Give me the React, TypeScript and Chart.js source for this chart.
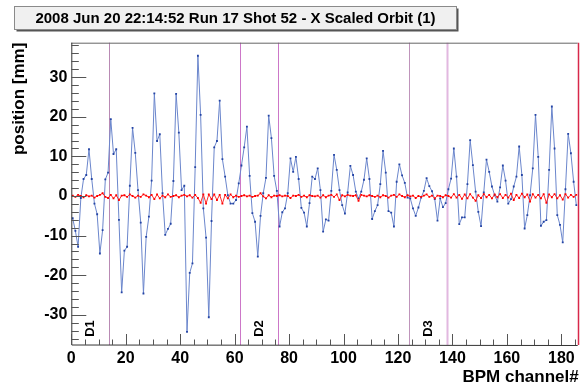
import React, { useEffect, useRef } from 'react';
import { Chart, registerables } from 'chart.js';

Chart.register(...registerables);

const titleText = '2008 Jun 20 22:14:52 Run 17 Shot 52 - X Scaled Orbit (1)';
const xTitle = 'BPM channel#';
const yTitle = 'position [mm]';

// BPM channel index (bins 0..185, drawn at bin centre)
const channels: number[] = Array.from({ length: 186 }, (_, i) => i);

const orbitX: number[] = [
  -5.6, -8.8, -12.8, -0.5, 4.3, 5.3, 11.8, 4.3, -1.9, -4.6,
  -14.5, -8.6, 4.2, 5.9, 19.4, 10.6, 11.8, -6.0, -24.3, -13.8,
  -12.8, 2.6, 17.2, 10.9, 1.5, -6.7, -24.6, -10.3, -5.2, 3.9,
  25.9, 13.9, 15.6, 0.7, -9.8, -8.3, -7.0, 3.8, 25.8, 16.0,
  1.5, 2.6, -34.3, -19.4, -17.0, 7.3, 35.4, 20.5, -3.1, -10.5,
  -30.6, -6.3, 12.3, 13.9, 24.1, 9.3, 4.9, 0.2, -1.9, -1.9,
  -1.0, 3.2, 7.7, 12.3, 17.5, 5.1, -4.3, -6.5, -15.3, -5.0,
  0.7, 4.6, 20.3, 14.6, 5.1, 1.3, -7.7, -4.1, -3.1, 0.7,
  9.5, 6.1, 9.9, 4.3, -3.0, -4.2, -7.7, -1.8, 4.9, 4.3,
  7.0, 1.5, -9.0, -5.9, -6.2, 1.3, 10.4, 6.6, 1.5, -2.3,
  -4.4, 0.9, 7.6, 5.3, 1.1, -0.6, 1.1, 4.1, 9.5, 4.3,
  -5.8, -3.8, -2.3, 3.0, 11.4, 5.9, -3.8, -4.2, -7.7, 3.6,
  8.0, 5.2, 3.3, -0.4, -0.6, -3.1, -5.0, -2.9, -0.4, 1.3,
  4.5, 2.5, 1.2, -0.8, -6.2, -0.6, -2.8, -1.8, 1.7, 4.4,
  12.0, 4.9, -7.1, -5.4, -5.4, 3.0, 14.1, 7.8, 1.1, -4.0,
  -7.6, 0.9, 9.2, 6.1, 2.4, 0.2, -1.4, 2.2, 7.7, 3.9,
  -1.9, -0.8, 2.4, 4.9, 12.5, 5.3, -8.2, -4.8, 0.2, 7.0,
  20.5, 9.9, -7.5, -6.5, -6.1, 6.6, 22.6, 12.0, -4.8, -7.3,
  -11.7, 1.7, 15.7, 10.8, 3.6, -2.3,
];

const orbitRef: number[] = [
  0.1, -0.2, 0.3, 0.0, -0.3, 0.2, -0.1, 0.1, -0.4, 0.0, 0.3, 0.7, -0.2, -0.5,
  0.3, -0.6, 0.2, -1.0, 0.1, 0.2, -0.2, 0.4, 0.0, -0.4, 0.1, -0.2, 0.4, 0.1,
  -0.3, 0.3, -0.8, 0.4, -0.6, 0.1, -0.3, 0.4, -0.2, 0.0, 0.2, -0.3, 0.1, 0.3, -0.1, 0.2, -0.4, 0.3,
  -0.5, -1.7, 0.4, -1.9, 0.4, -0.8, 0.4, -1.0, 0.3, -1.9, 0.3, -0.6,
  0.4, -0.3, 0.1, -0.2, 0.0, 0.2, -0.1, 0.1, -0.2, 0.0, 0.1, 0.7, -0.1, -0.6, 0.2, -0.3, 0.1, 0.0,
  0.2, -0.1, 0.1, 0.0, -0.5, 0.1, 0.0, 0.3, -0.2, 0.1, -0.3, 0.2, 0.0, -0.1, 0.1, -0.4, 0.2, -0.3, 0.1, 0.3, -0.2, 0.4, -1.0, 0.2, -0.1,
  0.3, 0.1, 0.0, 0.2, -1.2, 0.3, 0.1, -0.1, 0.2, 0.0, -0.2, 0.1, -0.3, 0.2, 0.0, -0.4, 0.1, 0.3, -0.2, 0.4, 0.0, -0.3, 0.2, -0.1, 0.1,
  -0.5, 0.0, -0.2, 0.1, 0.4, -0.2, 0.1, -0.6, 0.1, 0.0, -0.3, 0.2, 0.0, -0.4, 0.5, -0.4, 0.3, -0.7, 0.4, -0.6, 0.5, -0.4, -1.2, 0.2, -0.5,
  0.5, -0.3, 0.3, -0.6, 0.4, -0.3, 0.5, -0.5, 0.3, -0.4, 0.6, -1.0, 0.3, -0.5, 0.6, -0.3, 0.4, -1.4, 0.5, -0.4,
  0.3, -0.6, 0.5, -1.7, 0.4, -0.3, 0.5, -0.6, 0.2, -0.9, 0.5, -0.4, 0.3, -0.2, 0.3,
];

const xMin = 0;
const xMax = 186;
const yMin = -37.6;
const yMax = 38.7;
const xTickLabels: number[] = [0, 20, 40, 60, 80, 100, 120, 140, 160, 180];
const yTickLabels: number[] = [-30, -20, -10, 0, 10, 20, 30];
const xMajorStep = 20;
const xMinorStep = 5;
const yMajorStep = 10;
const yMinorStep = 2;

const markerPositions: number[] = [14, 62, 76, 124, 138, 186];
const markerColors: string[] = ['#b98ab4', '#cc77c8', '#cc77c8', '#bf94bb', '#e2b8e0', '#d8284a'];
const markerWidths: number[] = [1, 1, 1, 1, 2, 1.5];

const sectorLabels: string[] = ['D1', 'D2', 'D3'];
const sectorPositions: number[] = [7, 69, 131];

const FONT = '"Liberation Sans", Arial, Helvetica, sans-serif';

const rootStyle = {
  id: 'rootStyle',
  beforeDatasetsDraw(chart: any) {
    const { ctx, chartArea: a, scales } = chart;
    const x = scales.x;
    ctx.save();
    markerPositions.forEach((v, k) => {
      const px = Math.round(x.getPixelForValue(v)) + 0.5;
      ctx.strokeStyle = markerColors[k];
      ctx.lineWidth = markerWidths[k];
      ctx.beginPath();
      ctx.moveTo(px, a.top);
      ctx.lineTo(px, a.bottom);
      ctx.stroke();
    });
    ctx.restore();
  },
  afterDraw(chart: any) {
    const { ctx, chartArea: a, scales } = chart;
    const x = scales.x;
    const y = scales.y;
    ctx.save();
    // frame
    ctx.lineWidth = 1;
    ctx.strokeStyle = '#666666';
    ctx.beginPath();
    ctx.moveTo(a.left, a.top + 0.5);
    ctx.lineTo(a.right, a.top + 0.5);
    ctx.stroke();
    ctx.strokeStyle = '#333333';
    ctx.beginPath();
    ctx.moveTo(a.left + 0.5, a.top);
    ctx.lineTo(a.left + 0.5, a.bottom);
    ctx.lineTo(a.right, a.bottom + 0.5);
    ctx.stroke();

    // y ticks (inside)
    ctx.strokeStyle = '#555555';
    for (let v = Math.ceil(yMin / yMinorStep) * yMinorStep; v <= yMax; v += yMinorStep) {
      const py = Math.round(y.getPixelForValue(v)) + 0.5;
      const major = Math.abs(v % yMajorStep) < 1e-6;
      ctx.beginPath();
      ctx.moveTo(a.left, py);
      ctx.lineTo(a.left + (major ? 15 : 7.5), py);
      ctx.stroke();
    }
    // x ticks (inside)
    for (let v = xMin; v <= xMax; v += xMinorStep) {
      const px = Math.round(x.getPixelForValue(v)) + 0.5;
      const major = v % xMajorStep === 0;
      ctx.beginPath();
      ctx.moveTo(px, a.bottom);
      ctx.lineTo(px, a.bottom - (major ? 11 : 5.5));
      ctx.stroke();
    }

    // sector labels
    ctx.fillStyle = '#000000';
    ctx.font = `bold 13px ${FONT}`;
    ctx.textAlign = 'center';
    ctx.textBaseline = 'middle';
    sectorLabels.forEach((t, k) => {
      ctx.save();
      ctx.translate(x.getPixelForValue(sectorPositions[k]), 328.5);
      ctx.rotate(-Math.PI / 2);
      ctx.fillText(t, 0, 0);
      ctx.restore();
    });

    // axis titles
    ctx.font = `bold 17px ${FONT}`;
    ctx.textAlign = 'right';
    ctx.textBaseline = 'alphabetic';
    ctx.fillText(xTitle, a.right + 1, 382);
    ctx.save();
    ctx.translate(24, a.top);
    ctx.rotate(-Math.PI / 2);
    ctx.textAlign = 'right';
    ctx.fillText(yTitle, 0, 0);
    ctx.restore();

    // title box
    const bx = 14.5, by = 6.5, bw = 442, bh = 23;
    ctx.fillStyle = '#555555';
    ctx.fillRect(bx + 2, by + 2, bw, bh);
    ctx.fillStyle = '#f0f0f0';
    ctx.fillRect(bx, by, bw, bh);
    ctx.strokeStyle = '#8a8a8a';
    ctx.lineWidth = 1;
    ctx.strokeRect(bx, by, bw, bh);
    ctx.fillStyle = '#000000';
    ctx.font = `bold 15px ${FONT}`;
    ctx.textAlign = 'center';
    ctx.textBaseline = 'middle';
    ctx.fillText(titleText, bx + bw / 2, by + bh / 2 + 1);
    ctx.restore();
  },
};

export default function App() {
  const ref = useRef<HTMLCanvasElement>(null);
  useEffect(() => {
    document.body.style.margin = '0';
    const canvas = ref.current!;
    const chart = new Chart(canvas, {
      type: 'line',
      data: {
        datasets: [
          {
            label: 'ref',
            data: channels.map((c, i) => ({ x: c + 0.5, y: orbitRef[i] })),
            borderColor: '#ff2a2a',
            backgroundColor: '#ff0000',
            borderWidth: 1,
            pointRadius: 1.3,
            pointStyle: 'rect',
            pointBorderWidth: 0,
            tension: 0,
          },
          {
            label: 'x',
            data: channels.map((c, i) => ({ x: c + 0.5, y: orbitX[i] })),
            borderColor: '#6b86cc',
            backgroundColor: '#2444a4',
            borderWidth: 1,
            pointRadius: 1.3,
            pointStyle: 'rect',
            pointBorderWidth: 0,
            tension: 0,
          },
        ],
      },
      options: {
        animation: false,
        responsive: false,
        devicePixelRatio: 1,
        layout: { padding: { top: 42.7, right: 7.3, left: 0, bottom: 0 } },
        plugins: { legend: { display: false }, tooltip: { enabled: false }, title: { display: false } },
        scales: {
          x: {
            type: 'linear',
            min: xMin,
            max: xMax,
            grid: { display: false, drawTicks: false },
            border: { display: false },
            afterBuildTicks: (s: any) => {
              s.ticks = xTickLabels.map((v) => ({ value: v }));
            },
            afterFit: (s: any) => { s.height = 41; },
            ticks: {
              padding: 4,
              color: '#000',
              maxRotation: 0,
              autoSkip: false,
              font: { family: FONT, size: 16, weight: 'bold' },
            },
          },
          y: {
            type: 'linear',
            min: yMin,
            max: yMax,
            grid: { display: false, drawTicks: false },
            border: { display: false },
            afterBuildTicks: (s: any) => {
              s.ticks = yTickLabels.map((v) => ({ value: v }));
            },
            afterFit: (s: any) => { s.width = 71.3; },
            ticks: {
              padding: 4,
              color: '#000',
              autoSkip: false,
              font: { family: FONT, size: 16, weight: 'bold' },
            },
          },
        },
      },
      plugins: [rootStyle],
    } as any);
    return () => chart.destroy();
  }, []);
  return <canvas ref={ref} width={585} height={386} style={{ width: 585, height: 386, display: 'block' }} />;
}
